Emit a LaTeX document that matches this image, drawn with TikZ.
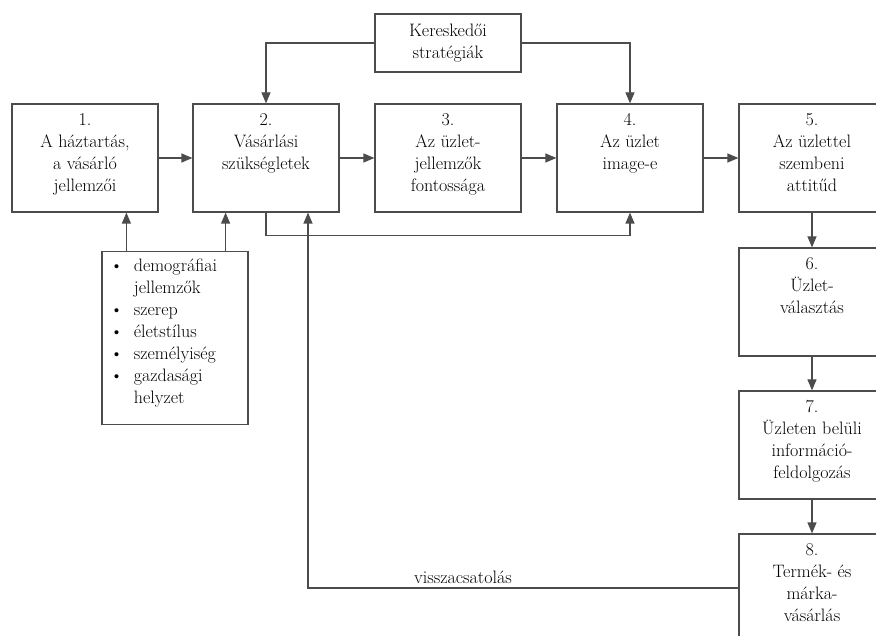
\documentclass[tikz,border=0pt]{standalone}
\usepackage{amsmath}
\usepackage{tikz}
\usetikzlibrary{arrows.meta}

\newcommand{\stagetext}[1]{\parbox[c][96pt][t]{142pt}{\centering\strut #1}}

\begin{document}
\begin{tikzpicture}[x=1pt, y=-1pt,
    every node/.style={font=\fontsize{18}{22}\selectfont},
    stage/.style={draw=black!70, line width=1.2pt, minimum width=146pt, minimum height=108pt, inner sep=0pt},
    arr/.style={draw=black!70, line width=1.2pt, -{Triangle[length=11pt, width=9pt]}}]% [ show background grid ]
    \useasboundingbox (0,0) rectangle (876,636);
    \clip (0,0) rectangle (876,636);

    \node[stage, minimum height=58pt, align=center] (ker) at (448,43) {Kereskedői\\ stratégiák};

    \node[stage] (s1) at (85,158) {\stagetext{1.\\ A háztartás,\\ a vásárló\\ jellemzői}};
    \node[stage] (s2) at (266,158) {\stagetext{2.\\ Vásárlási\\ szükségletek}};
    \node[stage] (s3) at (448,158) {\stagetext{3.\\ Az üzlet-\\ jellemzők\\ fontossága}};
    \node[stage] (s4) at (630,158) {\stagetext{4.\\ Az üzlet\\ image-e}};
    \node[stage] (s5) at (812,158) {\stagetext{5.\\ Az üzlettel\\ szembeni\\ attitűd}};
    \node[stage] (s6) at (812,302) {\stagetext{6.\\ Üzlet-\\ választás}};
    \node[stage] (s7) at (812,445) {\stagetext{7.\\ Üzleten belüli\\ információ-\\ feldolgozás}};
    \node[stage] (s8) at (812,588) {\stagetext{8.\\ Termék- és\\ márka-\\ vásárlás}};

    \node[stage, minimum height=173pt] (lst) at (175,338) {\parbox[c][163pt][t]{130pt}{\strut\begin{tabular}[t]{@{}l@{\ \ }l@{}}
        \textbullet & demográfiai\\
                    & jellemzők\\
        \textbullet & szerep\\
        \textbullet & életstílus\\
        \textbullet & személyiség\\
        \textbullet & gazdasági\\
                    & helyzet
    \end{tabular}}};

    \draw[arr] (s1.east) -- (s2.west);
    \draw[arr] (s2.east) -- (s3.west);
    \draw[arr] (s3.east) -- (s4.west);
    \draw[arr] (s4.east) -- (s5.west);
    \draw[arr] (s5.south) -- (s6.north);
    \draw[arr] (s6.south) -- (s7.north);
    \draw[arr] (s7.south) -- (s8.north);

    \draw[arr] (ker.west) -| (s2.north);
    \draw[arr] (ker.east) -| (s4.north);
    \draw[arr] (s2.south) -- ++(0,23) -| (s4.south);

    \draw[arr] ([xshift=25pt]lst.north west) -- ([xshift=25pt]lst.north west |- s1.south);
    \draw[arr] ([xshift=-23pt]lst.north east) -- ([xshift=-23pt]lst.north east |- s2.south);

    \draw[arr] (s8.west) -| node[pos=0.32, above] {visszacsatolás} ([xshift=42pt]s2.south);

\end{tikzpicture}
\end{document}
